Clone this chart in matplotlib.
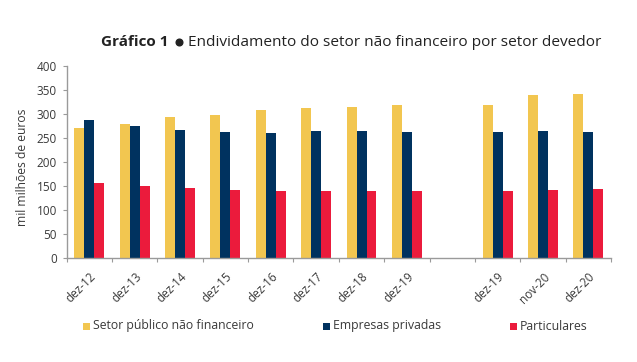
import numpy as np
import matplotlib
matplotlib.use("Agg")
from matplotlib import pyplot as plt
from matplotlib.patches import Rectangle
from matplotlib.lines import Line2D

plt.rcParams['font.family'] = ['Open Sans', 'DejaVu Sans']

# categories (empty slot separates the two blocks)
categorias = ["dez-12", "dez-13", "dez-14", "dez-15", "dez-16", "dez-17",
              "dez-18", "dez-19", "", "dez-19", "nov-20", "dez-20"]
setor_publico = [271, 280, 293, 298, 308, 312, 314, 318, np.nan, 318, 339, 342]
empresas = [287, 274, 266, 263, 260, 265, 265, 262, np.nan, 262, 264, 262]
particulares = [156, 150, 145, 142, 139, 139, 139, 139, np.nan, 139, 141, 143]

series = ["Setor público não financeiro", "Empresas privadas", "Particulares"]
cores = ["#F2C650", "#00325F", "#EB1B3C"]

W, H = 637, 362
fig = plt.figure(figsize=(W / 100, H / 100), dpi=100)
ax = fig.add_axes([66.7 / W, 1 - 257.7 / H, (611 - 66.7) / W, (257.7 - 66) / H])

x = np.arange(len(categorias))
w = 0.22
for i, (vals, c) in enumerate(zip([setor_publico, empresas, particulares], cores)):
    ax.bar(x + (i - 1) * w, vals, width=w, color=c, edgecolor="none")

ax.set_xlim(-0.5, len(categorias) - 0.5)
ax.set_ylim(0, 400)
ax.set_yticks(range(0, 401, 50))

grey = "#9a9a9a"
txt = "#3a3a3a"
for s in ["top", "right"]:
    ax.spines[s].set_visible(False)
for s in ["left", "bottom"]:
    ax.spines[s].set_color(grey)
    ax.spines[s].set_linewidth(1.0)

# x ticks at slot edges, labels at slot centres
ax.set_xticks(np.arange(-0.5, len(categorias), 1.0))
ax.set_xticklabels([])
ax.set_xticks(x, minor=True)
ax.set_xticklabels(categorias, minor=True, rotation=45, ha="right",
                   rotation_mode="anchor", fontsize=8.5, color=txt)
ax.tick_params(axis="x", which="major", length=3, color=grey, direction="out")
ax.tick_params(axis="x", which="minor", length=0, pad=9)
ax.tick_params(axis="y", length=3, color=grey, labelsize=8.5,
               labelcolor=txt, pad=4)

fig.text(22.5 / W, 1 - 167 / H, "mil milhões de euros", rotation=90,
         ha="center", va="center", fontsize=8.7, color=txt)

# title: bold part, bullet, regular part
ty = 1 - 42 / H
fig.text(101 / W, ty, "Gráfico 1", fontweight="bold",
         fontsize=11, ha="left", va="center", color="#222222")
fig.lines.append(Line2D([178.5 / W], [1 - 42 / H], marker="o", markersize=4.8,
                        color="#222222", transform=fig.transFigure))
fig.text(187.5 / W, ty, "Endividamento do setor não financeiro por setor devedor",
         fontsize=11.1, ha="left", va="center", color="#222222")

# legend drawn by hand so the three entries share one baseline
leg_x = [83, 323, 510]
leg_y = 326
for lx, s, c in zip(leg_x, series, cores):
    fig.patches.append(Rectangle((lx / W, 1 - (leg_y + 3.5) / H), 6.5 / W, 6.5 / H,
                                 transform=fig.transFigure, facecolor=c, edgecolor="none"))
    fig.text((lx + 10) / W, 1 - (leg_y + 3.5) / H, s, fontsize=8.8, color=txt,
             ha="left", va="baseline")

fig.savefig("out.png", dpi=100)
